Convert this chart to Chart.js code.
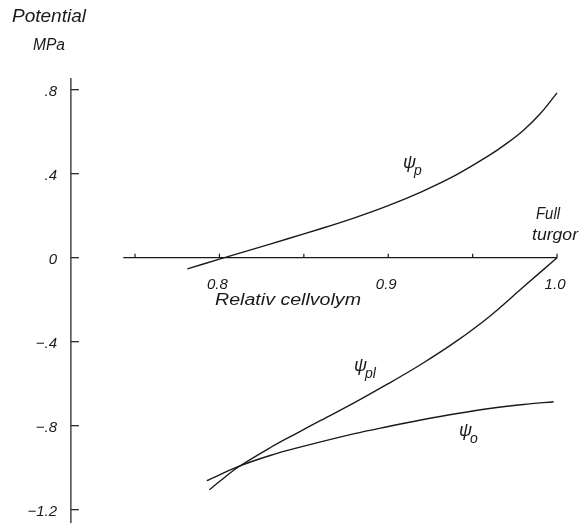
<!DOCTYPE html>
<html>
<head>
<meta charset="utf-8">
<script src="https://cdn.jsdelivr.net/npm/chart.js@4/dist/chart.umd.min.js"></script>
<style>
  html, body { margin: 0; padding: 0; background: #fff; }
  #wrap { width: 580px; height: 523px; position: relative; }
</style>
</head>
<body>
<div id="wrap"><canvas id="c"></canvas></div>
<script>
// Relative cell volume (x) against water potential components (MPa)
const psiP = [
  [0.781, -0.053], [0.80, -0.007], [0.82, 0.041], [0.84, 0.089], [0.86, 0.138],
  [0.88, 0.19], [0.90, 0.248], [0.92, 0.315], [0.94, 0.393], [0.96, 0.488],
  [0.97, 0.543], [0.98, 0.606], [0.99, 0.685], [1.0, 0.785]
];
const psiPl = [
  [0.794, -1.105], [0.80, -1.066], [0.811, -0.998], [0.83, -0.905], [0.846, -0.835],
  [0.86, -0.775], [0.88, -0.69], [0.90, -0.60], [0.92, -0.505], [0.94, -0.40],
  [0.96, -0.28], [0.98, -0.14], [1.0, 0.0]
];
const psiO = [
  [0.7925, -1.062], [0.811, -0.995], [0.83, -0.942], [0.846, -0.906], [0.88, -0.838],
  [0.90, -0.804], [0.92, -0.772], [0.94, -0.743], [0.96, -0.718], [0.98, -0.699],
  [0.998, -0.686]
];
const xTicks = [0.75, 0.80, 0.85, 0.90, 0.95, 1.00];
const xTickLabels = { 0.8: '0.8', 0.9: '0.9', 1.0: '1.0' };
const yTicks = [0.8, 0.4, 0, -0.4, -0.8, -1.2];
const yTickLabels = ['.8', '.4', '0', '\u2212.4', '\u2212.8', '\u22121.2'];

const INK = '#1a1a1a';
const FONT = '"Liberation Sans", "DejaVu Sans", sans-serif';

function toPts(a) { return a.map(p => ({ x: p[0], y: p[1] })); }

// draw italic text, optionally squeezed to a given width
function fitText(ctx, txt, cx, cy, size, width, align) {
  ctx.save();
  ctx.font = 'italic ' + size + 'px ' + FONT;
  ctx.textBaseline = 'middle';
  ctx.textAlign = 'left';
  const w = ctx.measureText(txt).width;
  const s = width ? width / w : 1;
  const ww = w * s;
  let left = cx - ww / 2;
  if (align === 'left') left = cx;
  if (align === 'right') left = cx - ww;
  ctx.translate(left, cy);
  ctx.scale(s, 1);
  ctx.fillStyle = INK;
  ctx.fillText(txt, 0, 0);
  ctx.restore();
}

const axesPlugin = {
  id: 'handAxes',
  afterDatasetsDraw(chart) {
    const ctx = chart.ctx;
    const xs = chart.scales.x, ys = chart.scales.y;
    const px = v => xs.getPixelForValue(v);
    const py = v => ys.getPixelForValue(v);
    ctx.save();
    ctx.strokeStyle = INK;
    ctx.lineWidth = 1.2;

    // vertical potential axis
    const ax = px(0.712);
    ctx.beginPath();
    ctx.moveTo(ax, py(0.856));
    ctx.lineTo(ax, py(-1.27));
    ctx.stroke();
    yTicks.forEach((v, i) => {
      ctx.beginPath();
      ctx.moveTo(ax, py(v));
      ctx.lineTo(ax + 8, py(v));
      ctx.stroke();
      fitText(ctx, yTickLabels[i], 57, py(v) + 2, 15, null, 'right');
    });

    // horizontal volume axis at zero potential
    ctx.beginPath();
    ctx.moveTo(px(0.743), py(0));
    ctx.lineTo(px(1.0), py(0));
    ctx.stroke();
    xTicks.forEach(v => {
      ctx.beginPath();
      ctx.moveTo(px(v), py(0));
      ctx.lineTo(px(v), py(0) - 4);
      ctx.stroke();
      const lab = xTickLabels[v];
      if (lab) fitText(ctx, lab, px(v) - 2, py(0) + 27, 15, null, 'center');
    });
    ctx.restore();

    // titles and annotations
    fitText(ctx, 'Potential', 12, 17, 19, 74, 'left');
    fitText(ctx, 'MPa', 33, 46, 16, 32, 'left');
    fitText(ctx, 'Relativ cellvolym', 215, 301, 16, 146, 'left');
    fitText(ctx, 'Full', 536, 215, 16, 24, 'left');
    fitText(ctx, 'turgor', 532, 236, 16, 46, 'left');

    // curve labels: psi with subscript
    const psi = (x, y, sub) => {
      fitText(ctx, '\u03c8', x, y, 18, null, 'left');
      fitText(ctx, sub, x + 11, y + 8, 14, null, 'left');
    };
    psi(403, 163, 'p');
    psi(354, 366, 'pl');
    psi(459, 431, 'o');
  }
};

const mk = (data) => ({
  data: toPts(data),
  borderColor: INK,
  borderWidth: 1.4,
  pointRadius: 0,
  fill: false,
  tension: 0.35
});

new Chart(document.getElementById('c'), {
  type: 'line',
  data: { datasets: [mk(psiP), mk(psiPl), mk(psiO)] },
  options: {
    responsive: true,
    maintainAspectRatio: false,
    animation: false,
    layout: { padding: 0 },
    plugins: { legend: { display: false }, tooltip: { enabled: false } },
    scales: {
      x: { type: 'linear', min: 0.6700, max: 1.0136, display: false },
      y: { type: 'linear', min: -1.2634, max: 1.2271, display: false }
    }
  },
  plugins: [axesPlugin]
});
</script>
</body>
</html>
